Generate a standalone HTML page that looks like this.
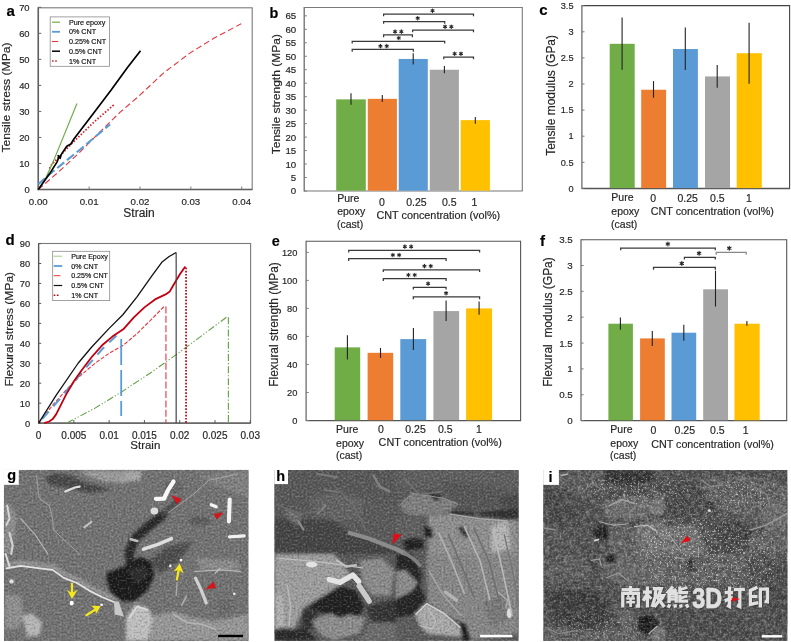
<!DOCTYPE html>
<html><head><meta charset="utf-8"><title>Figure</title>
<style>html,body{margin:0;padding:0;background:#fff;}svg{display:block;will-change:transform;}text{font-family:"Liberation Sans", sans-serif;stroke:#262626;stroke-width:0.18px;paint-order:stroke fill;}</style>
</head><body>
<svg width="791" height="642" viewBox="0 0 791 642">
<defs>
<filter id="b3" x="-20%" y="-20%" width="140%" height="140%"><feGaussianBlur stdDeviation="1.8"/></filter>
<filter id="b1" x="-20%" y="-20%" width="140%" height="140%"><feGaussianBlur stdDeviation="0.55"/></filter>
<filter id="b05" x="-20%" y="-20%" width="140%" height="140%"><feGaussianBlur stdDeviation="0.3"/></filter>
<filter id="wm" x="-5%" y="-20%" width="110%" height="140%"><feGaussianBlur stdDeviation="0.35"/></filter>
<filter id="noise" x="0" y="0" width="100%" height="100%"><feTurbulence type="fractalNoise" baseFrequency="0.22" numOctaves="4" seed="7" result="t"/><feColorMatrix in="t" type="matrix" values="0 0 0 0 1  0 0 0 0 1  0 0 0 0 1  2.2 0 0 0 -1.1" result="w"/><feColorMatrix in="t" type="matrix" values="0 0 0 0 0  0 0 0 0 0  0 0 0 0 0  -2.2 0 0 0 1.1" result="k"/><feMerge><feMergeNode in="w"/><feMergeNode in="k"/></feMerge></filter>
<filter id="noisef" x="0" y="0" width="100%" height="100%"><feTurbulence type="fractalNoise" baseFrequency="0.5" numOctaves="3" seed="11" result="t"/><feColorMatrix in="t" type="matrix" values="0 0 0 0 1  0 0 0 0 1  0 0 0 0 1  2.2 0 0 0 -1.1" result="w"/><feColorMatrix in="t" type="matrix" values="0 0 0 0 0  0 0 0 0 0  0 0 0 0 0  -2.2 0 0 0 1.1" result="k"/><feMerge><feMergeNode in="w"/><feMergeNode in="k"/></feMerge></filter>
<filter id="b6" x="-30%" y="-30%" width="160%" height="160%"><feGaussianBlur stdDeviation="7"/></filter>
<filter id="speck" x="0" y="0" width="100%" height="100%"><feTurbulence type="fractalNoise" baseFrequency="0.55" numOctaves="2" seed="3" result="t"/><feColorMatrix in="t" type="matrix" values="0 0 0 0 1  0 0 0 0 1  0 0 0 0 1  7 0 0 0 -4.1"/></filter>
</defs>
<rect x="0.00" y="0.00" width="791.00" height="642.00" fill="#fff"/>
<rect x="38.3" y="7.8" width="213.89999999999998" height="181.7" fill="#fff" stroke="#7a7a7a" stroke-width="1.1"/>
<line x1="38.30" y1="7.30" x2="38.30" y2="190.20" stroke="#606060" stroke-width="1.5"/>
<line x1="37.60" y1="189.50" x2="252.20" y2="189.50" stroke="#606060" stroke-width="1.5"/>
<line x1="38.30" y1="189.50" x2="41.30" y2="189.50" stroke="#666" stroke-width="1"/>
<text x="29.60" y="193.37" font-size="9.4" text-anchor="end" font-weight="normal" fill="#262626">0</text>
<line x1="38.30" y1="163.47" x2="41.30" y2="163.47" stroke="#666" stroke-width="1"/>
<text x="29.60" y="167.34" font-size="9.4" text-anchor="end" font-weight="normal" fill="#262626">10</text>
<line x1="38.30" y1="137.44" x2="41.30" y2="137.44" stroke="#666" stroke-width="1"/>
<text x="29.60" y="141.31" font-size="9.4" text-anchor="end" font-weight="normal" fill="#262626">20</text>
<line x1="38.30" y1="111.41" x2="41.30" y2="111.41" stroke="#666" stroke-width="1"/>
<text x="29.60" y="115.28" font-size="9.4" text-anchor="end" font-weight="normal" fill="#262626">30</text>
<line x1="38.30" y1="85.38" x2="41.30" y2="85.38" stroke="#666" stroke-width="1"/>
<text x="29.60" y="89.25" font-size="9.4" text-anchor="end" font-weight="normal" fill="#262626">40</text>
<line x1="38.30" y1="59.35" x2="41.30" y2="59.35" stroke="#666" stroke-width="1"/>
<text x="29.60" y="63.22" font-size="9.4" text-anchor="end" font-weight="normal" fill="#262626">50</text>
<line x1="38.30" y1="33.32" x2="41.30" y2="33.32" stroke="#666" stroke-width="1"/>
<text x="29.60" y="37.19" font-size="9.4" text-anchor="end" font-weight="normal" fill="#262626">60</text>
<line x1="38.30" y1="7.29" x2="41.30" y2="7.29" stroke="#666" stroke-width="1"/>
<text x="29.60" y="11.16" font-size="9.4" text-anchor="end" font-weight="normal" fill="#262626">70</text>
<line x1="38.30" y1="189.50" x2="38.30" y2="186.50" stroke="#7a7a7a" stroke-width="1"/>
<text x="38.30" y="205.17" font-size="9.7" text-anchor="middle" font-weight="normal" fill="#262626">0.00</text>
<line x1="89.15" y1="189.50" x2="89.15" y2="186.50" stroke="#7a7a7a" stroke-width="1"/>
<text x="89.15" y="205.17" font-size="9.7" text-anchor="middle" font-weight="normal" fill="#262626">0.01</text>
<line x1="140.00" y1="189.50" x2="140.00" y2="186.50" stroke="#7a7a7a" stroke-width="1"/>
<text x="140.00" y="205.17" font-size="9.7" text-anchor="middle" font-weight="normal" fill="#262626">0.02</text>
<line x1="190.85" y1="189.50" x2="190.85" y2="186.50" stroke="#7a7a7a" stroke-width="1"/>
<text x="190.85" y="205.17" font-size="9.7" text-anchor="middle" font-weight="normal" fill="#262626">0.03</text>
<line x1="241.70" y1="189.50" x2="241.70" y2="186.50" stroke="#7a7a7a" stroke-width="1"/>
<text x="241.70" y="205.17" font-size="9.7" text-anchor="middle" font-weight="normal" fill="#262626">0.04</text>
<text x="139.00" y="216.60" font-size="12" text-anchor="middle" font-weight="normal" fill="#262626">Strain</text>
<text x="6.40" y="101.55" font-size="11.3" text-anchor="middle" font-weight="normal" fill="#262626" transform="rotate(-90 6.40 97.50)" textLength="110.2" lengthAdjust="spacingAndGlyphs">Tensile stress (MPa)</text>
<text x="10.70" y="15.77" font-size="15" text-anchor="middle" font-weight="bold" fill="#000">a</text>
<polyline points="38.30,189.50 58.64,171.80 78.98,153.06 99.32,132.49 120.17,112.19 137.46,97.35 163.39,73.15 189.83,53.10 214.24,38.01 241.19,23.69" fill="none" stroke="#E8343C" stroke-width="1.1" stroke-dasharray="6 3.2"/>
<polyline points="38.30,184.29 46.44,176.75 78.98,150.45 110.00,124.42" fill="none" stroke="#5B9BD5" stroke-width="2.1" stroke-dasharray="9 3.5"/>
<polyline points="49.49,168.68 51.52,164.77 70.84,144.47 94.23,121.82 114.07,104.64" fill="none" stroke="#D62027" stroke-width="1.7" stroke-dasharray="1.6 1.7"/>
<polyline points="38.30,189.50 45.93,177.79 53.55,160.87 76.95,103.60" fill="none" stroke="#70AD47" stroke-width="1.2"/>
<polyline points="38.30,189.50 49.69,173.62 57.11,161.91 59.15,156.18 58.13,155.66 60.17,158.26 61.18,154.62 66.78,146.29 70.84,143.95 73.89,139.00 95.25,110.89 111.52,89.54 127.29,67.68 140.51,50.76" fill="none" stroke="#000" stroke-width="1.7" stroke-linejoin="round"/>
<rect x="50.2" y="16.9" width="59.3" height="49.4" fill="#fff" stroke="#8a8a8a" stroke-width="0.8"/>
<text x="68.90" y="24.78" font-size="7.2" text-anchor="start" font-weight="normal" fill="#111">Pure epoxy</text>
<text x="68.90" y="34.38" font-size="7.2" text-anchor="start" font-weight="normal" fill="#111">0% CNT</text>
<text x="68.90" y="44.08" font-size="7.2" text-anchor="start" font-weight="normal" fill="#111">0.25% CNT</text>
<text x="68.90" y="53.78" font-size="7.2" text-anchor="start" font-weight="normal" fill="#111">0.5% CNT</text>
<text x="68.90" y="63.58" font-size="7.2" text-anchor="start" font-weight="normal" fill="#111">1% CNT</text>
<line x1="52.00" y1="22.20" x2="60.00" y2="22.20" stroke="#70AD47" stroke-width="1.2"/>
<line x1="52.00" y1="31.80" x2="60.00" y2="31.80" stroke="#5B9BD5" stroke-width="1.8"/>
<line x1="51.80" y1="41.50" x2="58.20" y2="41.50" stroke="#E8343C" stroke-width="1.1"/>
<line x1="52.00" y1="51.20" x2="60.00" y2="51.20" stroke="#000" stroke-width="1.5"/>
<line x1="52.00" y1="61.00" x2="57.50" y2="61.00" stroke="#D62027" stroke-width="1.6" stroke-dasharray="1.6 1.6"/>
<rect x="304.20" y="7.50" width="218.10" height="183.50" fill="#fff"/>
<line x1="304.20" y1="7.50" x2="522.30" y2="7.50" stroke="#7a7a7a" stroke-width="1.1"/>
<line x1="522.30" y1="7.00" x2="522.30" y2="191.00" stroke="#7a7a7a" stroke-width="1.1"/>
<line x1="304.20" y1="7.00" x2="304.20" y2="191.50" stroke="#6c6c6c" stroke-width="1.3"/>
<line x1="304.20" y1="191.00" x2="522.80" y2="191.00" stroke="#777" stroke-width="1.15"/>
<line x1="304.20" y1="191.00" x2="306.80" y2="191.00" stroke="#7a7a7a" stroke-width="1"/>
<text x="296.20" y="194.47" font-size="9.7" text-anchor="end" font-weight="normal" fill="#262626">0</text>
<line x1="304.20" y1="177.53" x2="306.80" y2="177.53" stroke="#7a7a7a" stroke-width="1"/>
<text x="296.20" y="181.00" font-size="9.7" text-anchor="end" font-weight="normal" fill="#262626">5</text>
<line x1="304.20" y1="164.05" x2="306.80" y2="164.05" stroke="#7a7a7a" stroke-width="1"/>
<text x="296.20" y="167.52" font-size="9.7" text-anchor="end" font-weight="normal" fill="#262626">10</text>
<line x1="304.20" y1="150.57" x2="306.80" y2="150.57" stroke="#7a7a7a" stroke-width="1"/>
<text x="296.20" y="154.05" font-size="9.7" text-anchor="end" font-weight="normal" fill="#262626">15</text>
<line x1="304.20" y1="137.10" x2="306.80" y2="137.10" stroke="#7a7a7a" stroke-width="1"/>
<text x="296.20" y="140.57" font-size="9.7" text-anchor="end" font-weight="normal" fill="#262626">20</text>
<line x1="304.20" y1="123.62" x2="306.80" y2="123.62" stroke="#7a7a7a" stroke-width="1"/>
<text x="296.20" y="127.10" font-size="9.7" text-anchor="end" font-weight="normal" fill="#262626">25</text>
<line x1="304.20" y1="110.15" x2="306.80" y2="110.15" stroke="#7a7a7a" stroke-width="1"/>
<text x="296.20" y="113.62" font-size="9.7" text-anchor="end" font-weight="normal" fill="#262626">30</text>
<line x1="304.20" y1="96.68" x2="306.80" y2="96.68" stroke="#7a7a7a" stroke-width="1"/>
<text x="296.20" y="100.15" font-size="9.7" text-anchor="end" font-weight="normal" fill="#262626">35</text>
<line x1="304.20" y1="83.20" x2="306.80" y2="83.20" stroke="#7a7a7a" stroke-width="1"/>
<text x="296.20" y="86.67" font-size="9.7" text-anchor="end" font-weight="normal" fill="#262626">40</text>
<line x1="304.20" y1="69.73" x2="306.80" y2="69.73" stroke="#7a7a7a" stroke-width="1"/>
<text x="296.20" y="73.20" font-size="9.7" text-anchor="end" font-weight="normal" fill="#262626">45</text>
<line x1="304.20" y1="56.25" x2="306.80" y2="56.25" stroke="#7a7a7a" stroke-width="1"/>
<text x="296.20" y="59.72" font-size="9.7" text-anchor="end" font-weight="normal" fill="#262626">50</text>
<line x1="304.20" y1="42.78" x2="306.80" y2="42.78" stroke="#7a7a7a" stroke-width="1"/>
<text x="296.20" y="46.25" font-size="9.7" text-anchor="end" font-weight="normal" fill="#262626">55</text>
<line x1="304.20" y1="29.30" x2="306.80" y2="29.30" stroke="#7a7a7a" stroke-width="1"/>
<text x="296.20" y="32.77" font-size="9.7" text-anchor="end" font-weight="normal" fill="#262626">60</text>
<line x1="304.20" y1="15.83" x2="306.80" y2="15.83" stroke="#7a7a7a" stroke-width="1"/>
<text x="296.20" y="19.30" font-size="9.7" text-anchor="end" font-weight="normal" fill="#262626">65</text>
<rect x="336.20" y="99.37" width="29.60" height="91.33" fill="#70AD47"/>
<rect x="367.80" y="98.83" width="29.10" height="91.87" fill="#ED7D31"/>
<rect x="398.70" y="58.95" width="29.10" height="131.75" fill="#5B9BD5"/>
<rect x="429.80" y="69.73" width="29.10" height="120.97" fill="#A5A5A5"/>
<rect x="460.70" y="120.12" width="29.20" height="70.58" fill="#FFC000"/>
<line x1="351.00" y1="93.30" x2="351.00" y2="104.70" stroke="#222" stroke-width="1.1"/>
<line x1="382.30" y1="95.00" x2="382.30" y2="102.00" stroke="#222" stroke-width="1.1"/>
<line x1="413.20" y1="53.20" x2="413.20" y2="64.40" stroke="#222" stroke-width="1.1"/>
<line x1="444.40" y1="65.90" x2="444.40" y2="73.30" stroke="#222" stroke-width="1.1"/>
<line x1="475.30" y1="117.10" x2="475.30" y2="123.80" stroke="#222" stroke-width="1.1"/>
<text x="276.00" y="98.39" font-size="11.7" text-anchor="middle" font-weight="normal" fill="#262626" transform="rotate(-90 276.00 94.20)" textLength="120.2" lengthAdjust="spacingAndGlyphs">Tensile strength (MPa)</text>
<text x="273.90" y="18.06" font-size="14.4" text-anchor="middle" font-weight="bold" fill="#000">b</text>
<text x="337.20" y="202.36" font-size="10.5" text-anchor="start" font-weight="normal" fill="#262626">Pure</text>
<text x="337.20" y="214.76" font-size="10.5" text-anchor="start" font-weight="normal" fill="#262626">epoxy</text>
<text x="337.00" y="227.86" font-size="10.5" text-anchor="start" font-weight="normal" fill="#262626">(cast)</text>
<text x="382.00" y="206.06" font-size="10.5" text-anchor="middle" font-weight="normal" fill="#262626">0</text>
<text x="416.40" y="206.06" font-size="10.5" text-anchor="middle" font-weight="normal" fill="#262626">0.25</text>
<text x="449.20" y="206.06" font-size="10.5" text-anchor="middle" font-weight="normal" fill="#262626">0.5</text>
<text x="474.50" y="206.06" font-size="10.5" text-anchor="middle" font-weight="normal" fill="#262626">1</text>
<text x="376.40" y="218.56" font-size="10.5" text-anchor="start" font-weight="normal" fill="#262626" textLength="123.8" lengthAdjust="spacingAndGlyphs">CNT concentration (vol%)</text>
<path d="M352.20,51.70 V49.40 H413.30 V51.70" fill="none" stroke="#3a3a3a" stroke-width="1.25"/>
<path d="M380.45,44.35L380.45,47.85M381.97,45.23L378.93,46.98M381.97,46.98L378.93,45.23" stroke="#2a2a2a" stroke-width="1.1" fill="none" stroke-linecap="round"/>
<circle cx="380.45" cy="46.10" r="0.9" fill="#2a2a2a"/>
<path d="M386.75,44.35L386.75,47.85M388.27,45.23L385.23,46.98M388.27,46.98L385.23,45.23" stroke="#2a2a2a" stroke-width="1.1" fill="none" stroke-linecap="round"/>
<circle cx="386.75" cy="46.10" r="0.9" fill="#2a2a2a"/>
<path d="M352.20,43.60 V41.30 H444.70 V43.60" fill="none" stroke="#3a3a3a" stroke-width="1.25"/>
<path d="M398.80,36.25L398.80,39.75M400.32,37.12L397.28,38.88M400.32,38.88L397.28,37.12" stroke="#2a2a2a" stroke-width="1.1" fill="none" stroke-linecap="round"/>
<circle cx="398.80" cy="38.00" r="0.9" fill="#2a2a2a"/>
<path d="M383.60,37.20 V34.90 H412.40 V37.20" fill="none" stroke="#3a3a3a" stroke-width="1.25"/>
<path d="M395.05,29.85L395.05,33.35M396.57,30.72L393.53,32.47M396.57,32.48L393.53,30.72" stroke="#2a2a2a" stroke-width="1.1" fill="none" stroke-linecap="round"/>
<circle cx="395.05" cy="31.60" r="0.9" fill="#2a2a2a"/>
<path d="M401.35,29.85L401.35,33.35M402.87,30.72L399.83,32.47M402.87,32.48L399.83,30.72" stroke="#2a2a2a" stroke-width="1.1" fill="none" stroke-linecap="round"/>
<circle cx="401.35" cy="31.60" r="0.9" fill="#2a2a2a"/>
<path d="M383.60,23.80 V21.50 H444.70 V23.80" fill="none" stroke="#3a3a3a" stroke-width="1.25"/>
<path d="M417.70,16.45L417.70,19.95M419.22,17.32L416.18,19.07M419.22,19.07L416.18,17.32" stroke="#2a2a2a" stroke-width="1.1" fill="none" stroke-linecap="round"/>
<circle cx="417.70" cy="18.20" r="0.9" fill="#2a2a2a"/>
<path d="M383.60,16.30 V14.00 H473.50 V16.30" fill="none" stroke="#3a3a3a" stroke-width="1.25"/>
<path d="M432.50,8.95L432.50,12.45M434.02,9.82L430.98,11.57M434.02,11.57L430.98,9.82" stroke="#2a2a2a" stroke-width="1.1" fill="none" stroke-linecap="round"/>
<circle cx="432.50" cy="10.70" r="0.9" fill="#2a2a2a"/>
<path d="M412.60,32.30 V30.00 H473.50 V32.30" fill="none" stroke="#3a3a3a" stroke-width="1.25"/>
<path d="M445.05,24.95L445.05,28.45M446.57,25.82L443.53,27.57M446.57,27.57L443.53,25.82" stroke="#2a2a2a" stroke-width="1.1" fill="none" stroke-linecap="round"/>
<circle cx="445.05" cy="26.70" r="0.9" fill="#2a2a2a"/>
<path d="M451.35,24.95L451.35,28.45M452.87,25.82L449.83,27.57M452.87,27.57L449.83,25.82" stroke="#2a2a2a" stroke-width="1.1" fill="none" stroke-linecap="round"/>
<circle cx="451.35" cy="26.70" r="0.9" fill="#2a2a2a"/>
<path d="M443.80,59.30 V57.00 H473.50 V59.30" fill="none" stroke="#3a3a3a" stroke-width="1.25"/>
<path d="M454.65,51.95L454.65,55.45M456.17,52.83L453.13,54.58M456.17,54.58L453.13,52.83" stroke="#2a2a2a" stroke-width="1.1" fill="none" stroke-linecap="round"/>
<circle cx="454.65" cy="53.70" r="0.9" fill="#2a2a2a"/>
<path d="M460.95,51.95L460.95,55.45M462.47,52.83L459.43,54.58M462.47,54.58L459.43,52.83" stroke="#2a2a2a" stroke-width="1.1" fill="none" stroke-linecap="round"/>
<circle cx="460.95" cy="53.70" r="0.9" fill="#2a2a2a"/>
<rect x="581.90" y="5.60" width="207.70" height="182.80" fill="#fff"/>
<line x1="581.90" y1="5.60" x2="789.60" y2="5.60" stroke="#444" stroke-width="1.1"/>
<line x1="789.60" y1="5.10" x2="789.60" y2="188.40" stroke="#444" stroke-width="1.1"/>
<line x1="581.90" y1="5.10" x2="581.90" y2="188.90" stroke="#6c6c6c" stroke-width="1.3"/>
<line x1="581.90" y1="188.40" x2="790.10" y2="188.40" stroke="#555" stroke-width="1.5"/>
<line x1="581.90" y1="188.40" x2="584.50" y2="188.40" stroke="#7a7a7a" stroke-width="1"/>
<text x="573.50" y="191.69" font-size="9.2" text-anchor="end" font-weight="normal" fill="#262626">0</text>
<line x1="581.90" y1="162.30" x2="584.50" y2="162.30" stroke="#7a7a7a" stroke-width="1"/>
<text x="573.50" y="165.59" font-size="9.2" text-anchor="end" font-weight="normal" fill="#262626">0.5</text>
<line x1="581.90" y1="136.20" x2="584.50" y2="136.20" stroke="#7a7a7a" stroke-width="1"/>
<text x="573.50" y="139.49" font-size="9.2" text-anchor="end" font-weight="normal" fill="#262626">1</text>
<line x1="581.90" y1="110.10" x2="584.50" y2="110.10" stroke="#7a7a7a" stroke-width="1"/>
<text x="573.50" y="113.39" font-size="9.2" text-anchor="end" font-weight="normal" fill="#262626">1.5</text>
<line x1="581.90" y1="84.00" x2="584.50" y2="84.00" stroke="#7a7a7a" stroke-width="1"/>
<text x="573.50" y="87.29" font-size="9.2" text-anchor="end" font-weight="normal" fill="#262626">2</text>
<line x1="581.90" y1="57.90" x2="584.50" y2="57.90" stroke="#7a7a7a" stroke-width="1"/>
<text x="573.50" y="61.19" font-size="9.2" text-anchor="end" font-weight="normal" fill="#262626">2.5</text>
<line x1="581.90" y1="31.80" x2="584.50" y2="31.80" stroke="#7a7a7a" stroke-width="1"/>
<text x="573.50" y="35.09" font-size="9.2" text-anchor="end" font-weight="normal" fill="#262626">3</text>
<line x1="581.90" y1="5.70" x2="584.50" y2="5.70" stroke="#7a7a7a" stroke-width="1"/>
<text x="573.50" y="8.99" font-size="9.2" text-anchor="end" font-weight="normal" fill="#262626">3.5</text>
<rect x="609.70" y="43.81" width="25.00" height="144.29" fill="#70AD47"/>
<rect x="641.20" y="89.74" width="24.90" height="98.36" fill="#ED7D31"/>
<rect x="673.00" y="49.03" width="24.90" height="139.07" fill="#5B9BD5"/>
<rect x="705.00" y="76.43" width="25.00" height="111.67" fill="#A5A5A5"/>
<rect x="736.70" y="53.20" width="25.10" height="134.90" fill="#FFC000"/>
<line x1="622.10" y1="17.40" x2="622.10" y2="69.80" stroke="#222" stroke-width="1.1"/>
<line x1="653.50" y1="81.10" x2="653.50" y2="97.70" stroke="#222" stroke-width="1.1"/>
<line x1="685.30" y1="27.40" x2="685.30" y2="70.10" stroke="#222" stroke-width="1.1"/>
<line x1="717.20" y1="65.00" x2="717.20" y2="87.70" stroke="#222" stroke-width="1.1"/>
<line x1="749.10" y1="22.70" x2="749.10" y2="83.70" stroke="#222" stroke-width="1.1"/>
<text x="550.60" y="99.66" font-size="11.9" text-anchor="middle" font-weight="normal" fill="#262626" transform="rotate(-90 550.60 95.40)" textLength="120.7" lengthAdjust="spacingAndGlyphs">Tensile modulus (GPa)</text>
<text x="543.50" y="15.17" font-size="15" text-anchor="middle" font-weight="bold" fill="#000">c</text>
<text x="611.30" y="200.96" font-size="10.5" text-anchor="start" font-weight="normal" fill="#262626">Pure</text>
<text x="611.30" y="214.56" font-size="10.5" text-anchor="start" font-weight="normal" fill="#262626">epoxy</text>
<text x="611.10" y="227.76" font-size="10.5" text-anchor="start" font-weight="normal" fill="#262626">(cast)</text>
<text x="653.10" y="201.96" font-size="10.5" text-anchor="middle" font-weight="normal" fill="#262626">0</text>
<text x="687.60" y="201.96" font-size="10.5" text-anchor="middle" font-weight="normal" fill="#262626">0.25</text>
<text x="717.40" y="201.96" font-size="10.5" text-anchor="middle" font-weight="normal" fill="#262626">0.5</text>
<text x="748.90" y="201.96" font-size="10.5" text-anchor="middle" font-weight="normal" fill="#262626">1</text>
<text x="650.80" y="214.76" font-size="10.5" text-anchor="start" font-weight="normal" fill="#262626" textLength="123.1" lengthAdjust="spacingAndGlyphs">CNT concentration (vol%)</text>
<rect x="38.6" y="243.5" width="212.0" height="179.60000000000002" fill="#fff" stroke="#7a7a7a" stroke-width="1.1"/>
<line x1="38.60" y1="243.50" x2="38.60" y2="423.60" stroke="#555" stroke-width="1.3"/>
<line x1="38.60" y1="423.10" x2="250.60" y2="423.10" stroke="#555" stroke-width="1.3"/>
<line x1="38.60" y1="423.10" x2="41.20" y2="423.10" stroke="#555" stroke-width="1"/>
<text x="30.10" y="426.63" font-size="9.3" text-anchor="end" font-weight="normal" fill="#262626">0</text>
<line x1="38.60" y1="403.15" x2="41.20" y2="403.15" stroke="#555" stroke-width="1"/>
<text x="30.10" y="406.68" font-size="9.3" text-anchor="end" font-weight="normal" fill="#262626">10</text>
<line x1="38.60" y1="383.20" x2="41.20" y2="383.20" stroke="#555" stroke-width="1"/>
<text x="30.10" y="386.73" font-size="9.3" text-anchor="end" font-weight="normal" fill="#262626">20</text>
<line x1="38.60" y1="363.25" x2="41.20" y2="363.25" stroke="#555" stroke-width="1"/>
<text x="30.10" y="366.78" font-size="9.3" text-anchor="end" font-weight="normal" fill="#262626">30</text>
<line x1="38.60" y1="343.30" x2="41.20" y2="343.30" stroke="#555" stroke-width="1"/>
<text x="30.10" y="346.83" font-size="9.3" text-anchor="end" font-weight="normal" fill="#262626">40</text>
<line x1="38.60" y1="323.35" x2="41.20" y2="323.35" stroke="#555" stroke-width="1"/>
<text x="30.10" y="326.88" font-size="9.3" text-anchor="end" font-weight="normal" fill="#262626">50</text>
<line x1="38.60" y1="303.40" x2="41.20" y2="303.40" stroke="#555" stroke-width="1"/>
<text x="30.10" y="306.93" font-size="9.3" text-anchor="end" font-weight="normal" fill="#262626">60</text>
<line x1="38.60" y1="283.45" x2="41.20" y2="283.45" stroke="#555" stroke-width="1"/>
<text x="30.10" y="286.98" font-size="9.3" text-anchor="end" font-weight="normal" fill="#262626">70</text>
<line x1="38.60" y1="263.50" x2="41.20" y2="263.50" stroke="#555" stroke-width="1"/>
<text x="30.10" y="267.03" font-size="9.3" text-anchor="end" font-weight="normal" fill="#262626">80</text>
<line x1="38.60" y1="243.55" x2="41.20" y2="243.55" stroke="#555" stroke-width="1"/>
<text x="30.10" y="247.08" font-size="9.3" text-anchor="end" font-weight="normal" fill="#262626">90</text>
<line x1="38.60" y1="423.10" x2="38.60" y2="420.10" stroke="#555" stroke-width="1"/>
<text x="38.60" y="438.88" font-size="10" text-anchor="middle" font-weight="normal" fill="#262626">0</text>
<line x1="73.88" y1="423.10" x2="73.88" y2="420.10" stroke="#555" stroke-width="1"/>
<text x="73.88" y="438.88" font-size="10" text-anchor="middle" font-weight="normal" fill="#262626">0.005</text>
<line x1="109.15" y1="423.10" x2="109.15" y2="420.10" stroke="#555" stroke-width="1"/>
<text x="109.15" y="438.88" font-size="10" text-anchor="middle" font-weight="normal" fill="#262626">0.01</text>
<line x1="144.43" y1="423.10" x2="144.43" y2="420.10" stroke="#555" stroke-width="1"/>
<text x="144.43" y="438.88" font-size="10" text-anchor="middle" font-weight="normal" fill="#262626">0.015</text>
<line x1="179.70" y1="423.10" x2="179.70" y2="420.10" stroke="#555" stroke-width="1"/>
<text x="179.70" y="438.88" font-size="10" text-anchor="middle" font-weight="normal" fill="#262626">0.02</text>
<line x1="214.97" y1="423.10" x2="214.97" y2="420.10" stroke="#555" stroke-width="1"/>
<text x="214.97" y="438.88" font-size="10" text-anchor="middle" font-weight="normal" fill="#262626">0.025</text>
<line x1="250.25" y1="423.10" x2="250.25" y2="420.10" stroke="#555" stroke-width="1"/>
<text x="250.25" y="438.88" font-size="10" text-anchor="middle" font-weight="normal" fill="#262626">0.03</text>
<text x="145.30" y="449.32" font-size="11.5" text-anchor="middle" font-weight="normal" fill="#262626">Strain</text>
<text x="8.40" y="333.42" font-size="11.8" text-anchor="middle" font-weight="normal" fill="#262626" transform="rotate(-90 8.40 329.20)" textLength="114.6" lengthAdjust="spacingAndGlyphs">Flexural stress (MPa)</text>
<text x="10.00" y="245.47" font-size="15" text-anchor="middle" font-weight="bold" fill="#000">d</text>
<polyline points="66.82,423.10 95.04,408.14 121.14,392.18 151.48,372.23 176.17,354.67 200.86,336.32 227.67,316.37" fill="none" stroke="#62a045" stroke-width="1.1" stroke-dasharray="7 2 1.2 2 1.2 2"/>
<polyline points="228.38,317.37 228.38,423.10" fill="none" stroke="#62a045" stroke-width="1.1" stroke-dasharray="7 2 1.2 2"/>
<polyline points="38.60,423.10 52.71,405.15 66.82,389.19 80.93,375.22 95.04,363.25 109.15,353.28 123.26,345.30 137.37,333.33 151.48,319.36 164.18,306.39" fill="none" stroke="#E8343C" stroke-width="1.1" stroke-dasharray="4 1.6"/>
<polyline points="165.94,306.39 165.94,423.10" fill="none" stroke="#E8343C" stroke-width="1.1" stroke-dasharray="7 2.4"/>
<polyline points="42.13,419.11 59.77,399.16 80.93,373.23 102.09,349.29 121.85,330.33" fill="none" stroke="#5B9BD5" stroke-width="2.0" stroke-dasharray="10 7"/>
<polyline points="121.20,339.00 121.20,416.00" fill="none" stroke="#5B9BD5" stroke-width="1.8" stroke-dasharray="26 5"/>
<polyline points="44.24,423.10 49.18,421.50 52.71,419.11 56.24,414.12 59.77,407.14 66.82,393.18 73.88,381.21 80.93,371.23 91.51,357.26 102.09,345.30 112.68,336.32 123.26,329.34 133.84,317.37 144.43,307.39 155.01,299.41 165.59,294.42 169.82,291.43 172.64,286.44 179.70,274.47 185.34,266.49" fill="none" stroke="#C00010" stroke-width="1.8" stroke-linejoin="round"/>
<polyline points="186.05,267.49 186.05,423.10" fill="none" stroke="#C00010" stroke-width="1.7" stroke-dasharray="1.7 1.5"/>
<polyline points="38.60,423.10 56.24,395.17 78.11,363.25 91.51,347.29 109.15,328.34 122.84,314.77 137.37,296.42 151.48,276.47 161.78,262.30 169.12,256.52 176.17,252.53" fill="none" stroke="#111" stroke-width="1.3" stroke-linejoin="round"/>
<polyline points="176.17,252.53 176.17,423.10" fill="none" stroke="#444" stroke-width="1.2"/>
<rect x="52.7" y="251.3" width="57.0" height="49.3" fill="#fff" stroke="#8a8a8a" stroke-width="0.8"/>
<text x="71.20" y="258.74" font-size="7.1" text-anchor="start" font-weight="normal" fill="#111">Pure Epoxy</text>
<text x="71.20" y="268.54" font-size="7.1" text-anchor="start" font-weight="normal" fill="#111">0% CNT</text>
<text x="71.20" y="278.24" font-size="7.1" text-anchor="start" font-weight="normal" fill="#111">0.25% CNT</text>
<text x="71.20" y="288.04" font-size="7.1" text-anchor="start" font-weight="normal" fill="#111">0.5% CNT</text>
<text x="71.20" y="297.84" font-size="7.1" text-anchor="start" font-weight="normal" fill="#111">1% CNT</text>
<line x1="53.70" y1="256.20" x2="62.20" y2="256.20" stroke="#93c47d" stroke-width="0.9"/>
<line x1="53.70" y1="266.00" x2="62.20" y2="266.00" stroke="#5B9BD5" stroke-width="1.8"/>
<line x1="53.70" y1="275.70" x2="60.40" y2="275.70" stroke="#E8343C" stroke-width="1.0"/>
<line x1="53.70" y1="285.50" x2="62.20" y2="285.50" stroke="#111" stroke-width="1.2"/>
<line x1="53.70" y1="295.30" x2="59.30" y2="295.30" stroke="#C00010" stroke-width="1.6" stroke-dasharray="1.6 1.6"/>
<rect x="306.10" y="241.20" width="214.50" height="179.30" fill="#fff"/>
<line x1="306.10" y1="241.20" x2="520.60" y2="241.20" stroke="#555" stroke-width="1.1"/>
<line x1="520.60" y1="240.70" x2="520.60" y2="420.50" stroke="#555" stroke-width="1.1"/>
<line x1="306.10" y1="240.70" x2="306.10" y2="421.00" stroke="#6c6c6c" stroke-width="1.3"/>
<line x1="306.10" y1="420.50" x2="521.10" y2="420.50" stroke="#555" stroke-width="1.25"/>
<line x1="306.10" y1="420.50" x2="308.70" y2="420.50" stroke="#7a7a7a" stroke-width="1"/>
<text x="297.40" y="423.83" font-size="9.3" text-anchor="end" font-weight="normal" fill="#262626">0</text>
<line x1="306.10" y1="392.48" x2="308.70" y2="392.48" stroke="#7a7a7a" stroke-width="1"/>
<text x="297.40" y="395.81" font-size="9.3" text-anchor="end" font-weight="normal" fill="#262626">20</text>
<line x1="306.10" y1="364.46" x2="308.70" y2="364.46" stroke="#7a7a7a" stroke-width="1"/>
<text x="297.40" y="367.79" font-size="9.3" text-anchor="end" font-weight="normal" fill="#262626">40</text>
<line x1="306.10" y1="336.44" x2="308.70" y2="336.44" stroke="#7a7a7a" stroke-width="1"/>
<text x="297.40" y="339.77" font-size="9.3" text-anchor="end" font-weight="normal" fill="#262626">60</text>
<line x1="306.10" y1="308.42" x2="308.70" y2="308.42" stroke="#7a7a7a" stroke-width="1"/>
<text x="297.40" y="311.75" font-size="9.3" text-anchor="end" font-weight="normal" fill="#262626">80</text>
<line x1="306.10" y1="280.40" x2="308.70" y2="280.40" stroke="#7a7a7a" stroke-width="1"/>
<text x="297.40" y="283.73" font-size="9.3" text-anchor="end" font-weight="normal" fill="#262626">100</text>
<line x1="306.10" y1="252.38" x2="308.70" y2="252.38" stroke="#7a7a7a" stroke-width="1"/>
<text x="297.40" y="255.71" font-size="9.3" text-anchor="end" font-weight="normal" fill="#262626">120</text>
<rect x="334.70" y="347.37" width="25.50" height="72.83" fill="#70AD47"/>
<rect x="367.60" y="352.83" width="25.60" height="67.37" fill="#ED7D31"/>
<rect x="400.30" y="339.10" width="25.90" height="81.10" fill="#5B9BD5"/>
<rect x="433.40" y="311.08" width="25.70" height="109.12" fill="#A5A5A5"/>
<rect x="466.10" y="308.42" width="26.00" height="111.78" fill="#FFC000"/>
<line x1="347.40" y1="335.30" x2="347.40" y2="359.60" stroke="#222" stroke-width="1.1"/>
<line x1="380.50" y1="347.90" x2="380.50" y2="357.90" stroke="#222" stroke-width="1.1"/>
<line x1="413.40" y1="327.90" x2="413.40" y2="349.90" stroke="#222" stroke-width="1.1"/>
<line x1="446.10" y1="300.40" x2="446.10" y2="320.90" stroke="#222" stroke-width="1.1"/>
<line x1="479.10" y1="301.40" x2="479.10" y2="314.80" stroke="#222" stroke-width="1.1"/>
<text x="273.90" y="328.76" font-size="11.9" text-anchor="middle" font-weight="normal" fill="#262626" transform="rotate(-90 273.90 324.50)" textLength="124.5" lengthAdjust="spacingAndGlyphs">Flexural strength (MPa)</text>
<text x="275.70" y="245.56" font-size="14.4" text-anchor="middle" font-weight="bold" fill="#000">e</text>
<text x="336.10" y="432.56" font-size="10.5" text-anchor="start" font-weight="normal" fill="#262626">Pure</text>
<text x="336.10" y="446.76" font-size="10.5" text-anchor="start" font-weight="normal" fill="#262626">epoxy</text>
<text x="335.90" y="459.06" font-size="10.5" text-anchor="start" font-weight="normal" fill="#262626">(cast)</text>
<text x="380.90" y="432.66" font-size="10.5" text-anchor="middle" font-weight="normal" fill="#262626">0</text>
<text x="415.50" y="432.66" font-size="10.5" text-anchor="middle" font-weight="normal" fill="#262626">0.25</text>
<text x="445.30" y="432.66" font-size="10.5" text-anchor="middle" font-weight="normal" fill="#262626">0.5</text>
<text x="478.80" y="432.66" font-size="10.5" text-anchor="middle" font-weight="normal" fill="#262626">1</text>
<text x="378.60" y="446.46" font-size="10.5" text-anchor="start" font-weight="normal" fill="#262626" textLength="123.2" lengthAdjust="spacingAndGlyphs">CNT concentration (vol%)</text>
<path d="M348.70,252.60 V250.30 H479.60 V252.60" fill="none" stroke="#3a3a3a" stroke-width="1.25"/>
<path d="M404.85,244.85L404.85,248.35M406.37,245.73L403.33,247.48M406.37,247.48L403.33,245.73" stroke="#2a2a2a" stroke-width="1.1" fill="none" stroke-linecap="round"/>
<circle cx="404.85" cy="246.60" r="0.9" fill="#2a2a2a"/>
<path d="M411.15,244.85L411.15,248.35M412.67,245.73L409.63,247.48M412.67,247.48L409.63,245.73" stroke="#2a2a2a" stroke-width="1.1" fill="none" stroke-linecap="round"/>
<circle cx="411.15" cy="246.60" r="0.9" fill="#2a2a2a"/>
<path d="M348.70,261.00 V258.70 H446.10 V261.00" fill="none" stroke="#3a3a3a" stroke-width="1.25"/>
<path d="M392.85,253.25L392.85,256.75M394.37,254.12L391.33,255.88M394.37,255.88L391.33,254.12" stroke="#2a2a2a" stroke-width="1.1" fill="none" stroke-linecap="round"/>
<circle cx="392.85" cy="255.00" r="0.9" fill="#2a2a2a"/>
<path d="M399.15,253.25L399.15,256.75M400.67,254.12L397.63,255.88M400.67,255.88L397.63,254.12" stroke="#2a2a2a" stroke-width="1.1" fill="none" stroke-linecap="round"/>
<circle cx="399.15" cy="255.00" r="0.9" fill="#2a2a2a"/>
<path d="M383.30,272.10 V269.80 H479.60 V272.10" fill="none" stroke="#3a3a3a" stroke-width="1.25"/>
<path d="M424.45,264.35L424.45,267.85M425.97,265.23L422.93,266.98M425.97,266.98L422.93,265.23" stroke="#2a2a2a" stroke-width="1.1" fill="none" stroke-linecap="round"/>
<circle cx="424.45" cy="266.10" r="0.9" fill="#2a2a2a"/>
<path d="M430.75,264.35L430.75,267.85M432.27,265.23L429.23,266.98M432.27,266.98L429.23,265.23" stroke="#2a2a2a" stroke-width="1.1" fill="none" stroke-linecap="round"/>
<circle cx="430.75" cy="266.10" r="0.9" fill="#2a2a2a"/>
<path d="M383.30,281.00 V278.70 H446.10 V281.00" fill="none" stroke="#3a3a3a" stroke-width="1.25"/>
<path d="M408.45,273.25L408.45,276.75M409.97,274.12L406.93,275.88M409.97,275.88L406.93,274.12" stroke="#2a2a2a" stroke-width="1.1" fill="none" stroke-linecap="round"/>
<circle cx="408.45" cy="275.00" r="0.9" fill="#2a2a2a"/>
<path d="M414.75,273.25L414.75,276.75M416.27,274.12L413.23,275.88M416.27,275.88L413.23,274.12" stroke="#2a2a2a" stroke-width="1.1" fill="none" stroke-linecap="round"/>
<circle cx="414.75" cy="275.00" r="0.9" fill="#2a2a2a"/>
<path d="M413.30,289.60 V287.30 H446.10 V289.60" fill="none" stroke="#3a3a3a" stroke-width="1.25"/>
<path d="M428.10,281.85L428.10,285.35M429.62,282.73L426.58,284.48M429.62,284.48L426.58,282.73" stroke="#2a2a2a" stroke-width="1.1" fill="none" stroke-linecap="round"/>
<circle cx="428.10" cy="283.60" r="0.9" fill="#2a2a2a"/>
<path d="M413.30,299.20 V296.90 H479.60 V299.20" fill="none" stroke="#3a3a3a" stroke-width="1.25"/>
<path d="M446.10,291.45L446.10,294.95M447.62,292.32L444.58,294.07M447.62,294.07L444.58,292.32" stroke="#2a2a2a" stroke-width="1.1" fill="none" stroke-linecap="round"/>
<circle cx="446.10" cy="293.20" r="0.9" fill="#2a2a2a"/>
<rect x="581.00" y="239.80" width="205.70" height="180.80" fill="#fff"/>
<line x1="581.00" y1="239.80" x2="786.70" y2="239.80" stroke="#555" stroke-width="1.1"/>
<line x1="786.70" y1="239.30" x2="786.70" y2="420.60" stroke="#555" stroke-width="1.1"/>
<line x1="581.00" y1="239.30" x2="581.00" y2="421.10" stroke="#6c6c6c" stroke-width="1.3"/>
<line x1="581.00" y1="420.60" x2="787.20" y2="420.60" stroke="#555" stroke-width="1.3"/>
<line x1="581.00" y1="420.60" x2="583.60" y2="420.60" stroke="#7a7a7a" stroke-width="1"/>
<text x="572.80" y="424.11" font-size="9.8" text-anchor="end" font-weight="normal" fill="#262626">0</text>
<line x1="581.00" y1="394.75" x2="583.60" y2="394.75" stroke="#7a7a7a" stroke-width="1"/>
<text x="572.80" y="398.26" font-size="9.8" text-anchor="end" font-weight="normal" fill="#262626">0.5</text>
<line x1="581.00" y1="368.90" x2="583.60" y2="368.90" stroke="#7a7a7a" stroke-width="1"/>
<text x="572.80" y="372.41" font-size="9.8" text-anchor="end" font-weight="normal" fill="#262626">1</text>
<line x1="581.00" y1="343.05" x2="583.60" y2="343.05" stroke="#7a7a7a" stroke-width="1"/>
<text x="572.80" y="346.56" font-size="9.8" text-anchor="end" font-weight="normal" fill="#262626">1.5</text>
<line x1="581.00" y1="317.20" x2="583.60" y2="317.20" stroke="#7a7a7a" stroke-width="1"/>
<text x="572.80" y="320.71" font-size="9.8" text-anchor="end" font-weight="normal" fill="#262626">2</text>
<line x1="581.00" y1="291.35" x2="583.60" y2="291.35" stroke="#7a7a7a" stroke-width="1"/>
<text x="572.80" y="294.86" font-size="9.8" text-anchor="end" font-weight="normal" fill="#262626">2.5</text>
<line x1="581.00" y1="265.50" x2="583.60" y2="265.50" stroke="#7a7a7a" stroke-width="1"/>
<text x="572.80" y="269.01" font-size="9.8" text-anchor="end" font-weight="normal" fill="#262626">3</text>
<line x1="581.00" y1="239.65" x2="583.60" y2="239.65" stroke="#7a7a7a" stroke-width="1"/>
<text x="572.80" y="243.16" font-size="9.8" text-anchor="end" font-weight="normal" fill="#262626">3.5</text>
<rect x="608.40" y="323.71" width="24.50" height="96.59" fill="#70AD47"/>
<rect x="640.10" y="338.40" width="24.70" height="81.90" fill="#ED7D31"/>
<rect x="671.50" y="332.71" width="24.70" height="87.59" fill="#5B9BD5"/>
<rect x="703.20" y="289.28" width="24.80" height="131.02" fill="#A5A5A5"/>
<rect x="734.50" y="323.71" width="25.20" height="96.59" fill="#FFC000"/>
<line x1="620.40" y1="317.40" x2="620.40" y2="329.70" stroke="#222" stroke-width="1.1"/>
<line x1="652.30" y1="331.00" x2="652.30" y2="346.00" stroke="#222" stroke-width="1.1"/>
<line x1="683.80" y1="324.80" x2="683.80" y2="340.70" stroke="#222" stroke-width="1.1"/>
<line x1="715.50" y1="270.70" x2="715.50" y2="306.60" stroke="#222" stroke-width="1.1"/>
<line x1="746.90" y1="320.90" x2="746.90" y2="325.80" stroke="#222" stroke-width="1.1"/>
<text x="547.40" y="326.26" font-size="11.9" text-anchor="middle" font-weight="normal" fill="#262626" transform="rotate(-90 547.40 322.00)" textLength="129.5" lengthAdjust="spacingAndGlyphs">Flexural  modulus (GPa)</text>
<text x="542.60" y="245.67" font-size="15" text-anchor="middle" font-weight="bold" fill="#000">f</text>
<text x="610.30" y="432.86" font-size="10.5" text-anchor="start" font-weight="normal" fill="#262626">Pure</text>
<text x="610.30" y="446.76" font-size="10.5" text-anchor="start" font-weight="normal" fill="#262626">epoxy</text>
<text x="610.10" y="459.36" font-size="10.5" text-anchor="start" font-weight="normal" fill="#262626">(cast)</text>
<text x="653.30" y="434.26" font-size="10.5" text-anchor="middle" font-weight="normal" fill="#262626">0</text>
<text x="684.80" y="434.26" font-size="10.5" text-anchor="middle" font-weight="normal" fill="#262626">0.25</text>
<text x="717.40" y="434.26" font-size="10.5" text-anchor="middle" font-weight="normal" fill="#262626">0.5</text>
<text x="745.60" y="434.26" font-size="10.5" text-anchor="middle" font-weight="normal" fill="#262626">1</text>
<text x="651.20" y="447.76" font-size="10.5" text-anchor="start" font-weight="normal" fill="#262626" textLength="122.7" lengthAdjust="spacingAndGlyphs">CNT concentration (vol%)</text>
<path d="M620.70,250.30 V248.00 H715.30 V250.30" fill="none" stroke="#3a3a3a" stroke-width="1.25"/>
<path d="M667.90,242.00L667.90,246.00M669.63,243.00L666.17,245.00M669.63,245.00L666.17,243.00" stroke="#2a2a2a" stroke-width="1.1" fill="none" stroke-linecap="round"/>
<circle cx="667.90" cy="244.00" r="0.9" fill="#2a2a2a"/>
<path d="M684.40,259.60 V257.30 H715.30 V259.60" fill="none" stroke="#3a3a3a" stroke-width="1.25"/>
<path d="M699.10,251.30L699.10,255.30M700.83,252.30L697.37,254.30M700.83,254.30L697.37,252.30" stroke="#2a2a2a" stroke-width="1.1" fill="none" stroke-linecap="round"/>
<circle cx="699.10" cy="253.30" r="0.9" fill="#2a2a2a"/>
<path d="M653.50,269.70 V267.40 H715.30 V269.70" fill="none" stroke="#3a3a3a" stroke-width="1.25"/>
<path d="M681.80,261.40L681.80,265.40M683.53,262.40L680.07,264.40M683.53,264.40L680.07,262.40" stroke="#2a2a2a" stroke-width="1.1" fill="none" stroke-linecap="round"/>
<circle cx="681.80" cy="263.40" r="0.9" fill="#2a2a2a"/>
<path d="M716.20,254.70 V252.40 H746.20 V254.70" fill="none" stroke="#888" stroke-width="1.25"/>
<path d="M729.30,246.20L729.30,250.20M731.03,247.20L727.57,249.20M731.03,249.20L727.57,247.20" stroke="#2a2a2a" stroke-width="1.1" fill="none" stroke-linecap="round"/>
<circle cx="729.30" cy="248.20" r="0.9" fill="#2a2a2a"/>
<clipPath id="cpg"><rect x="3.8" y="469.8" width="244.9" height="171.2"/></clipPath>
<g clip-path="url(#cpg)">
<rect x="3.80" y="469.80" width="244.90" height="171.20" fill="#727272"/>
<g filter="url(#b3)">
<polygon points="45.4,477.2 54.2,473.2 71.7,475.6 82.8,481.9 101.9,486.7 111.5,489.9 89.2,493.1 68.5,488.3 52.6,485.9 46.2,481.9" fill="#484848"/>
<polygon points="79.6,470.8 126.0,470.8 126.0,483.5 101.9,481.1 86.0,475.6" fill="#9a9a9a"/>
<polygon points="126.0,470.8 141.9,470.8 140.3,480.3 126.0,481.9" fill="#a6a6a6"/>
<polygon points="197.7,475.6 248.7,470.8 248.7,497.9 215.2,485.1" fill="#808080"/>
<ellipse cx="199.3" cy="521.0" rx="11.2" ry="4.5" fill="#5c5c5c"/>
<ellipse cx="173.8" cy="486.7" rx="9.6" ry="6.4" fill="#666666"/>
<polyline points="130.8,567.9 129.2,552.0 135.6,537.7 148.3,526.5 162.6,515.4" fill="none" stroke="#2c2c2c" stroke-width="9.24" stroke-linecap="round" stroke-linejoin="round"/>
<polyline points="163.4,513.8 173.8,504.2 178.6,500.2" fill="none" stroke="#484848" stroke-width="4.78" stroke-linecap="round" stroke-linejoin="round"/>
<polyline points="149.7,561.6 165.7,549.5 191.1,542.5" fill="none" stroke="#565656" stroke-width="3.82" stroke-linecap="round" stroke-linejoin="round"/>
<polygon points="4.0,502.6 11.2,505.8 17.5,518.6 14.3,536.1 9.6,553.9 4.0,553.9" fill="#8c8c8c"/>
<polygon points="4.8,593.8 20.7,595.4 23.9,617.7 17.5,628.9 4.8,628.9" fill="#8e8e8e"/>
<polygon points="22.3,616.1 31.9,612.9 42.2,622.5 39.8,635.2 27.1,636.8" fill="#b4b4b4"/>
<polyline points="6.4,565.2 20.7,562.8 39.8,564.8 53.4,566.7 64.5,574.4 77.3,579.2 90.0,587.1 102.7,593.5 118.7,600.2" fill="none" stroke="#949494" stroke-width="4.78" stroke-linecap="round" stroke-linejoin="round"/>
<polygon points="151.5,616.1 173.8,611.3 194.5,617.7 215.2,620.9 248.7,614.5 248.7,640.8 146.7,640.8" fill="#969696"/>
<polygon points="126.0,617.7 135.6,603.7 148.3,608.2 152.8,617.7 147.5,640.8 126.0,640.8" fill="#bebebe"/>
<polygon points="194.5,558.0 237.5,560.4 240.7,571.5 221.6,569.9 202.5,570.7" fill="#8a8a8a"/>
<ellipse cx="224.8" cy="606.6" rx="9.6" ry="8.0" fill="#6a6a6a"/>
<polygon points="106.7,572.7 125.8,565.4 140.2,556.8 151.3,561.6 154.5,575.9 147.2,590.9 133.8,601.4 120.4,601.4 110.9,593.4 106.7,581.3" fill="#1e1e1e"/>
<polygon points="127.4,571.1 143.4,564.8 149.7,574.3 137.0,583.9" fill="#2e2e2e"/>
<polygon points="149.7,561.6 172.0,545.6 191.1,545.6 178.4,561.6 159.3,574.3" fill="#4e4e4e"/>
</g>
<rect x="3.8" y="469.8" width="244.9" height="171.2" filter="url(#noisef)" opacity="0.3"/>
<g filter="url(#b1)">
<polyline points="6.4,568.3 20.7,565.9 39.8,568.3 52.6,569.9 63.7,577.9 76.5,582.7 89.2,590.6 101.9,597.0 117.9,603.7" fill="none" stroke="#e4e4e4" stroke-width="1.75" stroke-linecap="round" stroke-linejoin="round"/>
<polyline points="7.2,505.8 9.6,518.6 6.4,524.9" fill="none" stroke="#d8d8d8" stroke-width="1.91" stroke-linecap="round" stroke-linejoin="round"/>
<polyline points="5.6,554.0 9.6,566.7" fill="none" stroke="#dddddd" stroke-width="1.91" stroke-linecap="round" stroke-linejoin="round"/>
<polyline points="9.6,532.9 12.7,545.6 11.2,553.9" fill="none" stroke="#d0d0d0" stroke-width="2.23" stroke-linecap="round" stroke-linejoin="round"/>
<polyline points="36.6,475.6 39.0,497.9 49.4,505.8 52.6,518.6 53.4,529.7" fill="none" stroke="#9c9c9c" stroke-width="1.12" stroke-linecap="round" stroke-linejoin="round"/>
<polyline points="20.7,518.6 35.0,534.5 47.8,553.9" fill="none" stroke="#b8b8b8" stroke-width="1.12" stroke-linecap="round" stroke-linejoin="round"/>
<polyline points="53.4,529.7 66.9,542.5 79.6,553.9" fill="none" stroke="#a8a8a8" stroke-width="0.96" stroke-linecap="round" stroke-linejoin="round"/>
<polyline points="65.3,491.5 74.9,487.5 79.6,486.7" fill="none" stroke="#e0e0e0" stroke-width="2.23" stroke-linecap="round" stroke-linejoin="round"/>
<polyline points="84.4,527.3 91.6,521.8" fill="none" stroke="#c8c8c8" stroke-width="1.91" stroke-linecap="round" stroke-linejoin="round"/>
<polyline points="169.0,512.2 192.9,494.7 208.8,480.3 237.5,474.0" fill="none" stroke="#a6a6a6" stroke-width="0.96" stroke-linecap="round" stroke-linejoin="round"/>
<polyline points="143.5,549.1 157.9,544.4 171.4,538.6" fill="none" stroke="#dedede" stroke-width="3.50" stroke-linecap="round" stroke-linejoin="round"/>
<ellipse cx="154.4" cy="510.9" rx="3.8" ry="3.5" fill="#dcdcdc"/>
<polyline points="130.8,539.3 137.2,540.9" fill="none" stroke="#c0c0c0" stroke-width="2.55" stroke-linecap="round" stroke-linejoin="round"/>
<polyline points="194.5,571.5 221.6,569.9 240.7,571.5" fill="none" stroke="#b8b8b8" stroke-width="1.12" stroke-linecap="round" stroke-linejoin="round"/>
<polyline points="220.0,568.3 215.2,573.1" fill="none" stroke="#c4c4c4" stroke-width="1.27" stroke-linecap="round" stroke-linejoin="round"/>
<polygon points="113.9,601.8 118.7,601.5 123.9,616.4 114.7,614.5" fill="#c8c8c8"/>
<polyline points="129.2,617.7 137.2,606.6 147.5,609.8" fill="none" stroke="#dcdcdc" stroke-width="1.59" stroke-linecap="round" stroke-linejoin="round"/>
<polyline points="173.8,614.5 186.5,622.5 200.9,624.1 215.2,628.9" fill="none" stroke="#b4b4b4" stroke-width="1.59" stroke-linecap="round" stroke-linejoin="round"/>
<polyline points="186.5,596.2 181.8,605.0" fill="none" stroke="#b0b0b0" stroke-width="1.59" stroke-linecap="round" stroke-linejoin="round"/>
<polyline points="177.0,582.7 176.2,595.4" fill="none" stroke="#a8a8a8" stroke-width="1.43" stroke-linecap="round" stroke-linejoin="round"/>
</g>
<g filter="url(#b05)">
<polyline points="155.9,498.8 163.9,498.7 168.2,489.9 173.5,481.6" fill="none" stroke="#f8f8f8" stroke-width="4.30" stroke-linecap="round" stroke-linejoin="round"/>
<polyline points="229.7,499.5 228.9,521.4" fill="none" stroke="#f4f4f4" stroke-width="4.14" stroke-linecap="round" stroke-linejoin="round"/>
<polyline points="211.2,504.7 216.2,506.8" fill="none" stroke="#f4f4f4" stroke-width="3.19" stroke-linecap="round" stroke-linejoin="round"/>
<polyline points="229.5,536.9 244.2,535.8" fill="none" stroke="#f2f2f2" stroke-width="3.19" stroke-linecap="round" stroke-linejoin="round"/>
<polyline points="195.6,578.2 200.9,589.4 206.3,603.1" fill="none" stroke="#d0d0d0" stroke-width="3.19" stroke-linecap="round" stroke-linejoin="round"/>
<ellipse cx="71.7" cy="603.1" rx="2.1" ry="2.4" fill="#ffffff"/>
<ellipse cx="101.6" cy="604.7" rx="1.3" ry="1.3" fill="#ffffff"/>
<ellipse cx="181.0" cy="560.1" rx="1.3" ry="1.3" fill="#ffffff"/>
<ellipse cx="170.3" cy="565.9" rx="1.3" ry="1.3" fill="#f0f0f0"/>
<ellipse cx="234.3" cy="593.8" rx="1.3" ry="1.3" fill="#f0f0f0"/>
<ellipse cx="11.5" cy="581.4" rx="2.2" ry="2.2" fill="#e0e0e0"/>
<polygon points="171.1,495.1 181.8,499.1 177.3,503.9" fill="#d2141c"/>
<polygon points="223.5,512.4 213.6,513.8 216.8,519.5" fill="#d2141c"/>
<polygon points="205.2,589.4 213.3,581.4 216.2,587.8" fill="#d2141c"/>
<polyline points="72.0,583.9 72.0,595.7" fill="none" stroke="#f6e71c" stroke-width="2.23" stroke-linecap="round" stroke-linejoin="round"/>
<polygon points="66.9,589.8 72.0,598.9 77.6,589.8 72.0,593.0" fill="#f6e71c"/>
<polyline points="86.3,615.2 97.5,608.2" fill="none" stroke="#f6e71c" stroke-width="2.23" stroke-linecap="round" stroke-linejoin="round"/>
<polygon points="91.1,605.8 100.7,605.9 95.9,614.2 95.3,609.4" fill="#f6e71c"/>
<polyline points="177.0,579.5 179.2,566.7" fill="none" stroke="#f6e71c" stroke-width="2.23" stroke-linecap="round" stroke-linejoin="round"/>
<polygon points="173.8,571.2 179.8,563.6 183.7,573.4 178.9,569.9" fill="#f6e71c"/>
</g>
<rect x="218.10" y="634.80" width="25.00" height="2.40" fill="#000"/>
</g>
<rect x="3.80" y="469.80" width="15.00" height="15.00" fill="#fff"/>
<text x="11.80" y="480.39" font-size="14.5" text-anchor="middle" font-weight="bold" fill="#000">g</text>
<clipPath id="cph"><rect x="274.3" y="469.9" width="244.5" height="171.0"/></clipPath>
<g clip-path="url(#cph)">
<rect x="274.30" y="469.90" width="244.50" height="171.00" fill="#5a5a5a"/>
<g filter="url(#b3)">
<polygon points="274.5,470.0 396.0,470.0 396.0,505.8 365.6,497.9 333.7,518.6 274.5,518.6" fill="#585858"/>
<polygon points="309.8,496.3 336.9,493.1 365.6,499.5 359.2,518.6 333.7,521.8 314.6,513.8" fill="#646464"/>
<polygon points="274.5,518.6 333.7,520.2 349.6,532.9 396.0,548.8 396.0,553.9 274.5,553.9" fill="#444444"/>
<polygon points="285.9,509.0 301.9,513.8 298.7,526.5 287.5,518.6" fill="#6e6e6e"/>
<polygon points="396.0,470.0 518.7,470.0 518.7,488.3 396.0,486.7" fill="#5e5e5e"/>
<polygon points="440.6,480.3 497.9,486.7 501.1,505.8 475.6,512.2 448.6,509.0" fill="#565656"/>
<polygon points="399.2,505.8 411.9,493.1 443.8,497.9 458.1,504.2 448.6,512.5 419.9,515.7 405.6,513.8" fill="#7e7e7e"/>
<polygon points="427.9,515.4 450.2,513.8 478.8,518.6 518.7,517.0 518.7,553.9 427.9,553.9" fill="#8e8e8e"/>
<polygon points="491.6,526.5 507.5,520.2 510.7,548.8 491.6,552.0" fill="#b4b4b4"/>
<polygon points="426.3,491.5 443.8,496.3 435.8,501.4" fill="#2a2a2a"/>
<polygon points="450.2,510.3 475.6,513.1 474.1,516.3 451.8,515.1" fill="#282828"/>
<polygon points="478.8,512.5 518.7,507.7 518.7,519.4 507.5,520.2 482.0,517.3" fill="#303030"/>
<polygon points="497.9,497.9 518.7,493.1 518.7,507.4 501.1,505.8" fill="#484848"/>
<polygon points="423.9,525.7 431.8,527.3 433.4,538.5 424.7,536.9" fill="#222222"/>
<polygon points="402.4,540.9 413.5,536.9 423.9,540.9 423.1,548.8 405.6,550.4" fill="#242424"/>
<polygon points="457.3,527.3 462.9,526.5 469.3,536.1 464.5,537.7" fill="#282828"/>
<polygon points="396.0,518.6 419.9,517.0 423.1,536.1 402.4,539.3 396.0,536.1" fill="#606060"/>
<polygon points="274.8,554.0 333.7,554.0 349.6,573.1 338.5,585.9 317.8,598.6 305.0,606.6 293.9,628.9 284.3,627.3 274.8,601.8" fill="#9c9c9c"/>
<polygon points="359.2,560.4 381.5,558.0 394.2,569.9 391.1,595.4 371.9,595.4 362.4,582.7" fill="#8a8a8a"/>
<polygon points="317.8,600.2 340.1,585.9 356.0,590.6 364.3,606.6 359.2,616.4 338.5,618.0 322.6,613.3 306.6,608.5" fill="#242424"/>
<polygon points="301.9,608.2 317.8,613.3 313.0,628.9 301.9,628.9" fill="#303030"/>
<polygon points="274.8,629.2 306.6,628.9 317.8,640.8 274.8,640.8" fill="#2c2c2c"/>
<polygon points="311.4,620.9 330.5,613.3 340.1,618.0 349.6,614.8 365.6,618.0 359.2,633.6 333.7,640.0 321.0,635.2" fill="#8c8c8c"/>
<polygon points="365.6,606.9 396.0,598.9 396.0,622.8 371.9,620.9" fill="#363636"/>
<polygon points="368.8,624.4 396.0,622.8 396.0,640.8 359.2,640.8" fill="#6c6c6c"/>
<polygon points="274.8,593.8 282.7,595.4 284.3,627.3 274.8,628.9" fill="#b0b0b0"/>
<polygon points="426.3,554.0 518.7,554.0 518.7,633.6 469.3,640.8 459.7,620.9 443.8,612.9 427.9,601.8" fill="#868686"/>
<polygon points="396.0,554.0 411.9,554.0 421.5,573.1 419.9,585.9 426.3,598.9 413.5,614.8 396.0,618.0" fill="#272727"/>
<polygon points="396.0,571.5 405.6,569.9 417.5,582.7 411.9,591.0 396.0,598.9" fill="#8a8a8a"/>
<polygon points="415.1,614.5 426.3,603.4 443.8,612.9 459.7,627.3 461.3,637.1 427.9,634.0 419.9,625.7" fill="#a8a8a8"/>
<polygon points="459.7,620.9 466.1,624.1 470.9,640.8 462.9,640.8" fill="#1e1e1e"/>
<polygon points="396.0,618.0 415.1,616.4 421.5,627.3 427.9,640.8 396.0,640.8" fill="#5c5c5c"/>
<polygon points="482.0,601.8 504.3,595.4 507.5,620.9 491.6,627.3" fill="#787878"/>
</g>
<rect x="274.3" y="469.9" width="244.5" height="171.0" filter="url(#noisef)" opacity="0.3"/>
<g filter="url(#b1)">
<polyline points="349.6,532.9 368.8,538.5 396.0,549.1" fill="none" stroke="#8c8c8c" stroke-width="4.14" stroke-linecap="round" stroke-linejoin="round"/>
<polyline points="396.0,548.8 405.6,553.9" fill="none" stroke="#8c8c8c" stroke-width="4.14" stroke-linecap="round" stroke-linejoin="round"/>
<polyline points="404.8,553.2 413.5,558.8 419.9,565.2" fill="none" stroke="#808080" stroke-width="3.50" stroke-linecap="round" stroke-linejoin="round"/>
<polyline points="317.8,474.0 336.9,477.2" fill="none" stroke="#7a7a7a" stroke-width="2.23" stroke-linecap="round" stroke-linejoin="round"/>
<polyline points="373.5,475.6 379.9,486.7 389.5,491.5" fill="none" stroke="#808080" stroke-width="2.55" stroke-linecap="round" stroke-linejoin="round"/>
<polyline points="324.2,489.9 338.5,492.3" fill="none" stroke="#787878" stroke-width="1.59" stroke-linecap="round" stroke-linejoin="round"/>
<polyline points="317.8,513.8 325.8,505.0" fill="none" stroke="#8a8a8a" stroke-width="1.59" stroke-linecap="round" stroke-linejoin="round"/>
<polyline points="298.7,521.8 303.5,529.7" fill="none" stroke="#8a8a8a" stroke-width="2.23" stroke-linecap="round" stroke-linejoin="round"/>
<ellipse cx="311.7" cy="564.5" rx="5.7" ry="2.9" fill="#e2e2e2"/>
<polyline points="329.3,579.5 340.1,582.4 352.8,575.0 358.6,581.4" fill="none" stroke="#e4e4e4" stroke-width="5.42" stroke-linecap="round" stroke-linejoin="round"/>
<polyline points="359.2,585.9 365.6,595.4 369.1,601.1" fill="none" stroke="#cacaca" stroke-width="5.42" stroke-linecap="round" stroke-linejoin="round"/>
<polyline points="287.5,585.9 290.7,606.6 289.1,625.7" fill="none" stroke="#b8b8b8" stroke-width="1.59" stroke-linecap="round" stroke-linejoin="round"/>
<polyline points="336.9,560.4 346.5,566.7 356.0,565.2" fill="none" stroke="#c0c0c0" stroke-width="2.23" stroke-linecap="round" stroke-linejoin="round"/>
<polyline points="415.9,614.2 426.6,603.7 443.8,613.3 460.0,627.3" fill="none" stroke="#d2d2d2" stroke-width="1.43" stroke-linecap="round" stroke-linejoin="round"/>
<polyline points="419.9,625.7 432.6,628.9 435.8,620.9 427.9,608.2" fill="none" stroke="#c4c4c4" stroke-width="0.96" stroke-linecap="round" stroke-linejoin="round"/>
<ellipse cx="509.4" cy="613.3" rx="2.5" ry="4.8" fill="#dcdcdc"/>
<polyline points="445.4,592.2 456.5,600.2" fill="none" stroke="#b4b4b4" stroke-width="3.50" stroke-linecap="round" stroke-linejoin="round"/>
<polyline points="497.9,592.2 507.5,600.2 505.9,608.2" fill="none" stroke="#b0b0b0" stroke-width="1.27" stroke-linecap="round" stroke-linejoin="round"/>
<polyline points="399.2,506.1 411.9,493.4 443.8,498.2 457.8,504.2" fill="none" stroke="#989898" stroke-width="0.96" stroke-linecap="round" stroke-linejoin="round"/>
<polyline points="450.2,514.1 478.8,518.6 507.5,521.0" fill="none" stroke="#aaaaaa" stroke-width="1.27" stroke-linecap="round" stroke-linejoin="round"/>
<polyline points="438.8,532.9 451.6,561.6 464.3,593.4" fill="none" stroke="#b2b2b2" stroke-width="1.59" stroke-linecap="round" stroke-linejoin="round"/>
<polyline points="448.4,534.5 461.1,564.8 473.9,596.6" fill="none" stroke="#6e6e6e" stroke-width="1.59" stroke-linecap="round" stroke-linejoin="round"/>
<polyline points="464.3,526.5 480.3,561.6 489.8,599.8" fill="none" stroke="#b6b6b6" stroke-width="1.59" stroke-linecap="round" stroke-linejoin="round"/>
<polyline points="473.9,528.1 489.8,563.2 499.4,601.4" fill="none" stroke="#707070" stroke-width="1.59" stroke-linecap="round" stroke-linejoin="round"/>
<polyline points="493.0,529.7 502.6,571.1 512.1,615.7" fill="none" stroke="#bababa" stroke-width="1.59" stroke-linecap="round" stroke-linejoin="round"/>
<polyline points="504.2,534.5 513.7,575.9 519.1,606.2" fill="none" stroke="#747474" stroke-width="1.27" stroke-linecap="round" stroke-linejoin="round"/>
<polyline points="429.3,571.1 442.0,593.4 461.1,615.7" fill="none" stroke="#a8a8a8" stroke-width="1.27" stroke-linecap="round" stroke-linejoin="round"/>
<polyline points="279.6,558.4 317.8,561.6 362.4,567.9" fill="none" stroke="#c0c0c0" stroke-width="1.27" stroke-linecap="round" stroke-linejoin="round"/>
<polyline points="276.4,504.2 298.7,513.8 321.0,510.6" fill="none" stroke="#6c6c6c" stroke-width="1.27" stroke-linecap="round" stroke-linejoin="round"/>
<polyline points="333.7,485.1 352.8,504.2 365.6,529.7" fill="none" stroke="#707070" stroke-width="1.27" stroke-linecap="round" stroke-linejoin="round"/>
<polyline points="403.8,478.7 419.7,494.7 442.0,491.5" fill="none" stroke="#767676" stroke-width="1.27" stroke-linecap="round" stroke-linejoin="round"/>
</g>
<polygon points="393.6,533.5 401.6,534.8 392.3,544.4" fill="#e01018" filter="url(#b05)"/>
<rect x="480.10" y="634.80" width="32.20" height="2.50" fill="#fff"/>
</g>
<rect x="274.30" y="469.90" width="13.70" height="14.20" fill="#fff"/>
<text x="280.60" y="481.19" font-size="14.5" text-anchor="middle" font-weight="bold" fill="#000">h</text>
<clipPath id="cpi"><rect x="543.2" y="469.9" width="244.4" height="171.0"/></clipPath>
<g clip-path="url(#cpi)">
<rect x="543.20" y="469.90" width="244.40" height="171.00" fill="#505050"/>
<g filter="url(#b3)">
<polygon points="554.9,470.8 602.7,470.8 605.9,489.9 578.8,497.9 554.9,491.5" fill="#5a5a5a"/>
<polygon points="602.7,470.0 653.7,470.0 650.5,481.9 628.2,486.7 605.9,481.9" fill="#363636"/>
<polygon points="602.7,502.6 625.0,496.3 650.5,497.9 665.0,493.1 665.0,513.8 634.6,520.2 605.9,518.6" fill="#6c6c6c"/>
<polygon points="543.5,485.1 570.9,491.5 583.6,513.8 562.9,526.5 543.5,523.3" fill="#484848"/>
<polygon points="609.1,525.3 628.2,523.3 640.9,539.3 637.8,553.9 609.1,553.9" fill="#606060"/>
<polygon points="634.6,525.3 665.0,520.2 665.0,553.9 640.9,553.9" fill="#747474"/>
<polygon points="594.8,526.8 605.9,525.3 609.7,536.1 602.7,540.1 595.1,536.1" fill="#1c1c1c"/>
<polygon points="543.5,529.7 561.3,526.5 586.8,553.9 543.5,553.9" fill="#565656"/>
<ellipse cx="656.9" cy="509.0" rx="4.0" ry="7.2" fill="#7a7a7a"/>
<polygon points="696.9,478.7 744.6,475.6 787.7,485.1 787.7,521.8 744.6,518.6 712.8,505.8" fill="#606060"/>
<polygon points="665.0,526.5 696.9,524.9 706.4,553.9 665.0,553.9" fill="#727272"/>
<polygon points="760.6,505.8 787.7,502.6 787.7,532.9 766.9,529.7" fill="#6c6c6c"/>
<polygon points="665.0,485.1 696.9,481.9 709.6,505.8 680.9,518.6 665.0,513.8" fill="#4a4a4a"/>
<polygon points="712.8,526.5 741.5,520.2 747.8,540.9 722.3,548.8" fill="#454545"/>
<ellipse cx="711.2" cy="506.6" rx="6.4" ry="4.8" fill="#3c3c3c"/>
<ellipse cx="747.8" cy="534.5" rx="4.0" ry="4.0" fill="#2a2a2a"/>
<polygon points="747.8,536.1 787.7,526.5 787.7,553.9 747.8,553.9" fill="#626262"/>
<polygon points="543.8,558.8 586.8,557.2 591.6,579.5 548.6,584.3" fill="#5c5c5c"/>
<polygon points="548.6,593.8 567.7,588.2 591.6,590.6 609.1,600.2 607.5,620.9 591.6,628.9 562.9,625.7 550.2,614.5" fill="#3c3c3c"/>
<polygon points="599.5,554.0 665.0,554.0 665.0,584.3 621.8,585.9 605.9,576.3" fill="#666666"/>
<polygon points="637.8,616.9 650.5,614.5 658.5,622.5 653.7,633.6 642.5,633.6 637.0,625.7" fill="#1a1a1a"/>
<polygon points="543.8,627.3 591.6,630.5 634.6,628.9 640.9,640.8 543.8,640.8" fill="#5e5e5e"/>
<polygon points="615.5,611.3 634.6,609.8 637.8,628.9 621.8,628.9" fill="#626262"/>
<ellipse cx="610.7" cy="558.8" rx="5.7" ry="4.8" fill="#242424"/>
<ellipse cx="593.2" cy="565.2" rx="4.8" ry="4.0" fill="#404040"/>
<polygon points="650.5,633.6 660.1,625.7 665.0,628.9 665.0,640.8 653.7,640.8" fill="#787878"/>
<polygon points="665.0,554.0 744.6,554.0 747.8,584.3 665.0,585.9" fill="#606060"/>
<polygon points="768.5,569.9 787.7,563.6 787.7,625.7 773.3,624.1 763.8,601.8" fill="#484848"/>
<polygon points="665.0,609.8 728.7,609.8 754.2,625.7 754.2,640.8 665.0,640.8" fill="#4c4c4c"/>
<polygon points="687.3,558.8 693.7,560.4 694.5,571.5 688.9,569.9" fill="#202020"/>
<polygon points="665.0,585.9 680.9,585.9 680.9,609.8 665.0,609.8" fill="#585858"/>
</g>
<rect x="543.2" y="469.9" width="244.4" height="171.0" filter="url(#noise)" opacity="0.28"/>
<rect x="543.2" y="469.9" width="244.4" height="171.0" filter="url(#noisef)" opacity="0.3"/>
<mask id="spk" maskUnits="userSpaceOnUse" x="540" y="466" width="251" height="176"><rect x="540" y="466" width="251" height="176" fill="#555"/><g filter="url(#b6)" fill="#fff"><ellipse cx="690" cy="545" rx="55" ry="30"/><ellipse cx="640" cy="490" rx="55" ry="13"/><ellipse cx="740" cy="495" rx="40" ry="15"/><ellipse cx="705" cy="580" rx="65" ry="12"/><ellipse cx="600" cy="628" rx="45" ry="9"/><ellipse cx="760" cy="560" rx="20" ry="30"/></g></mask>
<g mask="url(#spk)"><rect x="543.2" y="469.9" width="244.4" height="171.0" filter="url(#speck)" opacity="0.5"/></g>
<g filter="url(#b1)">
<polyline points="609.1,505.8 621.8,499.5 634.6,503.4" fill="none" stroke="#a0a0a0" stroke-width="1.59" stroke-linecap="round" stroke-linejoin="round"/>
<polyline points="599.5,521.8 613.9,525.3 628.2,523.7" fill="none" stroke="#a8a8a8" stroke-width="1.12" stroke-linecap="round" stroke-linejoin="round"/>
<polyline points="634.6,526.5 647.3,525.3 656.9,531.3" fill="none" stroke="#c0c0c0" stroke-width="1.12" stroke-linecap="round" stroke-linejoin="round"/>
<polyline points="561.3,475.6 567.7,474.0" fill="none" stroke="#b0b0b0" stroke-width="1.59" stroke-linecap="round" stroke-linejoin="round"/>
<polyline points="582.0,493.1 591.6,483.5 602.7,489.9" fill="none" stroke="#808080" stroke-width="1.12" stroke-linecap="round" stroke-linejoin="round"/>
<polyline points="543.8,528.1 554.9,529.7" fill="none" stroke="#8c8c8c" stroke-width="1.59" stroke-linecap="round" stroke-linejoin="round"/>
<polyline points="594.8,540.5 598.3,539.6" fill="none" stroke="#d0d0d0" stroke-width="1.91" stroke-linecap="round" stroke-linejoin="round"/>
<polyline points="701.6,480.3 711.2,486.7 722.3,485.1" fill="none" stroke="#8a8a8a" stroke-width="1.27" stroke-linecap="round" stroke-linejoin="round"/>
<polyline points="754.2,486.7 766.9,494.7 770.1,507.4" fill="none" stroke="#858585" stroke-width="1.27" stroke-linecap="round" stroke-linejoin="round"/>
<polyline points="751.0,529.7 766.9,524.9 786.1,513.8" fill="none" stroke="#9a9a9a" stroke-width="1.43" stroke-linecap="round" stroke-linejoin="round"/>
<ellipse cx="709.3" cy="510.6" rx="1.6" ry="1.3" fill="#e0e0e0"/>
<polyline points="668.2,532.9 679.3,548.8" fill="none" stroke="#a4a4a4" stroke-width="0.96" stroke-linecap="round" stroke-linejoin="round"/>
<polyline points="591.6,560.4 599.5,558.8 601.1,565.2" fill="none" stroke="#a0a0a0" stroke-width="1.27" stroke-linecap="round" stroke-linejoin="round"/>
<polyline points="605.9,577.9 618.6,573.1 628.2,581.1" fill="none" stroke="#9a9a9a" stroke-width="1.12" stroke-linecap="round" stroke-linejoin="round"/>
<polyline points="545.4,627.3 558.1,633.6 577.2,630.5" fill="none" stroke="#8a8a8a" stroke-width="1.12" stroke-linecap="round" stroke-linejoin="round"/>
<polyline points="648.9,633.6 656.9,626.5" fill="none" stroke="#b8b8b8" stroke-width="1.27" stroke-linecap="round" stroke-linejoin="round"/>
<polyline points="674.6,557.2 684.1,558.8" fill="none" stroke="#a0a0a0" stroke-width="1.27" stroke-linecap="round" stroke-linejoin="round"/>
</g>
<polygon points="680.6,543.6 687.3,535.6 690.5,540.5" fill="#e01018" filter="url(#b05)"/>
<g filter="url(#wm)">
<g opacity="0.4" transform="translate(0.7,0.7)">
<polyline points="621.54,589.72 639.66,589.72" fill="none" stroke="#202020" stroke-width="3.60" stroke-linecap="butt" stroke-linejoin="miter"/>
<polyline points="630.60,586.00 630.60,592.57" fill="none" stroke="#202020" stroke-width="3.60" stroke-linecap="butt" stroke-linejoin="miter"/>
<polyline points="622.77,607.46 622.77,593.45 638.43,593.45 638.43,606.15 635.54,606.15" fill="none" stroke="#202020" stroke-width="3.60" stroke-linecap="butt" stroke-linejoin="miter"/>
<polyline points="627.72,595.20 628.95,597.39" fill="none" stroke="#202020" stroke-width="2.52" stroke-linecap="butt" stroke-linejoin="miter"/>
<polyline points="633.48,595.20 632.25,597.39" fill="none" stroke="#202020" stroke-width="2.52" stroke-linecap="butt" stroke-linejoin="miter"/>
<polyline points="626.27,598.48 634.93,598.48" fill="none" stroke="#202020" stroke-width="2.70" stroke-linecap="butt" stroke-linejoin="miter"/>
<polyline points="626.27,602.21 634.93,602.21" fill="none" stroke="#202020" stroke-width="2.70" stroke-linecap="butt" stroke-linejoin="miter"/>
<polyline points="630.60,598.48 630.60,607.02" fill="none" stroke="#202020" stroke-width="2.88" stroke-linecap="butt" stroke-linejoin="miter"/>
<polyline points="643.04,592.13 651.92,592.13" fill="none" stroke="#202020" stroke-width="3.60" stroke-linecap="butt" stroke-linejoin="miter"/>
<polyline points="647.48,586.44 647.48,607.46" fill="none" stroke="#202020" stroke-width="3.60" stroke-linecap="butt" stroke-linejoin="miter"/>
<polyline points="647.48,593.45 643.27,600.89" fill="none" stroke="#202020" stroke-width="3.60" stroke-linecap="butt" stroke-linejoin="miter"/>
<polyline points="647.93,595.20 651.48,598.70" fill="none" stroke="#202020" stroke-width="2.88" stroke-linecap="butt" stroke-linejoin="miter"/>
<polyline points="652.81,588.63 661.25,588.63 658.58,595.64 663.47,595.64 661.25,599.58" fill="none" stroke="#202020" stroke-width="3.60" stroke-linecap="butt" stroke-linejoin="miter"/>
<polyline points="655.92,588.63 655.25,596.95 652.15,607.02" fill="none" stroke="#202020" stroke-width="3.60" stroke-linecap="butt" stroke-linejoin="miter"/>
<polyline points="656.36,596.07 664.36,607.02" fill="none" stroke="#202020" stroke-width="3.60" stroke-linecap="butt" stroke-linejoin="miter"/>
<polyline points="663.02,596.07 654.14,607.02" fill="none" stroke="#202020" stroke-width="3.60" stroke-linecap="butt" stroke-linejoin="miter"/>
<polyline points="672.88,586.44 668.81,591.26 676.04,590.82" fill="none" stroke="#202020" stroke-width="3.60" stroke-linecap="butt" stroke-linejoin="miter"/>
<polyline points="674.23,588.63 676.49,591.69" fill="none" stroke="#202020" stroke-width="2.88" stroke-linecap="butt" stroke-linejoin="miter"/>
<polyline points="669.03,603.08 669.03,593.45 676.27,593.45 676.27,602.64" fill="none" stroke="#202020" stroke-width="3.60" stroke-linecap="butt" stroke-linejoin="miter"/>
<polyline points="669.03,596.51 676.27,596.51" fill="none" stroke="#202020" stroke-width="2.70" stroke-linecap="butt" stroke-linejoin="miter"/>
<polyline points="669.03,599.36 676.27,599.36" fill="none" stroke="#202020" stroke-width="2.70" stroke-linecap="butt" stroke-linejoin="miter"/>
<polyline points="679.88,586.44 679.88,592.57 688.24,592.57" fill="none" stroke="#202020" stroke-width="3.60" stroke-linecap="butt" stroke-linejoin="miter"/>
<polyline points="687.34,587.53 679.88,589.72" fill="none" stroke="#202020" stroke-width="3.06" stroke-linecap="butt" stroke-linejoin="miter"/>
<polyline points="679.88,594.76 679.88,601.11 688.24,601.11" fill="none" stroke="#202020" stroke-width="3.60" stroke-linecap="butt" stroke-linejoin="miter"/>
<polyline points="687.34,596.07 679.88,598.26" fill="none" stroke="#202020" stroke-width="3.06" stroke-linecap="butt" stroke-linejoin="miter"/>
<polyline points="669.71,604.40 668.13,607.68" fill="none" stroke="#202020" stroke-width="3.60" stroke-linecap="butt" stroke-linejoin="miter"/>
<polyline points="674.91,604.40 675.59,607.68" fill="none" stroke="#202020" stroke-width="3.60" stroke-linecap="butt" stroke-linejoin="miter"/>
<polyline points="680.56,604.40 681.24,607.68" fill="none" stroke="#202020" stroke-width="3.60" stroke-linecap="butt" stroke-linejoin="miter"/>
<polyline points="686.21,604.40 688.24,607.68" fill="none" stroke="#202020" stroke-width="3.60" stroke-linecap="butt" stroke-linejoin="miter"/>
<polyline points="724.72,592.57 733.12,592.57" fill="none" stroke="#202020" stroke-width="3.60" stroke-linecap="butt" stroke-linejoin="miter"/>
<polyline points="729.55,586.44 729.55,606.59 727.03,605.27" fill="none" stroke="#202020" stroke-width="3.60" stroke-linecap="butt" stroke-linejoin="miter"/>
<polyline points="724.72,600.89 733.12,597.39" fill="none" stroke="#202020" stroke-width="3.60" stroke-linecap="butt" stroke-linejoin="miter"/>
<polyline points="733.96,589.50 744.88,589.50" fill="none" stroke="#202020" stroke-width="3.60" stroke-linecap="butt" stroke-linejoin="miter"/>
<polyline points="739.84,589.50 739.84,606.59 736.90,605.27" fill="none" stroke="#202020" stroke-width="3.60" stroke-linecap="butt" stroke-linejoin="miter"/>
<polyline points="757.45,587.31 750.38,590.38 750.38,604.40 758.28,602.64" fill="none" stroke="#202020" stroke-width="3.60" stroke-linecap="butt" stroke-linejoin="miter"/>
<polyline points="750.38,596.51 757.45,596.51" fill="none" stroke="#202020" stroke-width="3.60" stroke-linecap="butt" stroke-linejoin="miter"/>
<polyline points="760.36,607.46 760.36,589.07 767.44,589.07 767.44,601.77 764.52,601.33" fill="none" stroke="#202020" stroke-width="3.60" stroke-linecap="butt" stroke-linejoin="miter"/>
<text x="692.2" y="607.6" font-size="28.6" font-weight="bold" fill="#202020" style="stroke:#202020;stroke-width:0.7px" textLength="30.0" lengthAdjust="spacingAndGlyphs">3D</text>
</g>
<g opacity="0.93" transform="translate(0,0)">
<polyline points="621.54,589.72 639.66,589.72" fill="none" stroke="#ececec" stroke-width="3.30" stroke-linecap="butt" stroke-linejoin="miter"/>
<polyline points="630.60,586.00 630.60,592.57" fill="none" stroke="#ececec" stroke-width="3.30" stroke-linecap="butt" stroke-linejoin="miter"/>
<polyline points="622.77,607.46 622.77,593.45 638.43,593.45 638.43,606.15 635.54,606.15" fill="none" stroke="#ececec" stroke-width="3.30" stroke-linecap="butt" stroke-linejoin="miter"/>
<polyline points="627.72,595.20 628.95,597.39" fill="none" stroke="#ececec" stroke-width="2.31" stroke-linecap="butt" stroke-linejoin="miter"/>
<polyline points="633.48,595.20 632.25,597.39" fill="none" stroke="#ececec" stroke-width="2.31" stroke-linecap="butt" stroke-linejoin="miter"/>
<polyline points="626.27,598.48 634.93,598.48" fill="none" stroke="#ececec" stroke-width="2.47" stroke-linecap="butt" stroke-linejoin="miter"/>
<polyline points="626.27,602.21 634.93,602.21" fill="none" stroke="#ececec" stroke-width="2.47" stroke-linecap="butt" stroke-linejoin="miter"/>
<polyline points="630.60,598.48 630.60,607.02" fill="none" stroke="#ececec" stroke-width="2.64" stroke-linecap="butt" stroke-linejoin="miter"/>
<polyline points="643.04,592.13 651.92,592.13" fill="none" stroke="#ececec" stroke-width="3.30" stroke-linecap="butt" stroke-linejoin="miter"/>
<polyline points="647.48,586.44 647.48,607.46" fill="none" stroke="#ececec" stroke-width="3.30" stroke-linecap="butt" stroke-linejoin="miter"/>
<polyline points="647.48,593.45 643.27,600.89" fill="none" stroke="#ececec" stroke-width="3.30" stroke-linecap="butt" stroke-linejoin="miter"/>
<polyline points="647.93,595.20 651.48,598.70" fill="none" stroke="#ececec" stroke-width="2.64" stroke-linecap="butt" stroke-linejoin="miter"/>
<polyline points="652.81,588.63 661.25,588.63 658.58,595.64 663.47,595.64 661.25,599.58" fill="none" stroke="#ececec" stroke-width="3.30" stroke-linecap="butt" stroke-linejoin="miter"/>
<polyline points="655.92,588.63 655.25,596.95 652.15,607.02" fill="none" stroke="#ececec" stroke-width="3.30" stroke-linecap="butt" stroke-linejoin="miter"/>
<polyline points="656.36,596.07 664.36,607.02" fill="none" stroke="#ececec" stroke-width="3.30" stroke-linecap="butt" stroke-linejoin="miter"/>
<polyline points="663.02,596.07 654.14,607.02" fill="none" stroke="#ececec" stroke-width="3.30" stroke-linecap="butt" stroke-linejoin="miter"/>
<polyline points="672.88,586.44 668.81,591.26 676.04,590.82" fill="none" stroke="#ececec" stroke-width="3.30" stroke-linecap="butt" stroke-linejoin="miter"/>
<polyline points="674.23,588.63 676.49,591.69" fill="none" stroke="#ececec" stroke-width="2.64" stroke-linecap="butt" stroke-linejoin="miter"/>
<polyline points="669.03,603.08 669.03,593.45 676.27,593.45 676.27,602.64" fill="none" stroke="#ececec" stroke-width="3.30" stroke-linecap="butt" stroke-linejoin="miter"/>
<polyline points="669.03,596.51 676.27,596.51" fill="none" stroke="#ececec" stroke-width="2.47" stroke-linecap="butt" stroke-linejoin="miter"/>
<polyline points="669.03,599.36 676.27,599.36" fill="none" stroke="#ececec" stroke-width="2.47" stroke-linecap="butt" stroke-linejoin="miter"/>
<polyline points="679.88,586.44 679.88,592.57 688.24,592.57" fill="none" stroke="#ececec" stroke-width="3.30" stroke-linecap="butt" stroke-linejoin="miter"/>
<polyline points="687.34,587.53 679.88,589.72" fill="none" stroke="#ececec" stroke-width="2.80" stroke-linecap="butt" stroke-linejoin="miter"/>
<polyline points="679.88,594.76 679.88,601.11 688.24,601.11" fill="none" stroke="#ececec" stroke-width="3.30" stroke-linecap="butt" stroke-linejoin="miter"/>
<polyline points="687.34,596.07 679.88,598.26" fill="none" stroke="#ececec" stroke-width="2.80" stroke-linecap="butt" stroke-linejoin="miter"/>
<polyline points="669.71,604.40 668.13,607.68" fill="none" stroke="#ececec" stroke-width="3.30" stroke-linecap="butt" stroke-linejoin="miter"/>
<polyline points="674.91,604.40 675.59,607.68" fill="none" stroke="#ececec" stroke-width="3.30" stroke-linecap="butt" stroke-linejoin="miter"/>
<polyline points="680.56,604.40 681.24,607.68" fill="none" stroke="#ececec" stroke-width="3.30" stroke-linecap="butt" stroke-linejoin="miter"/>
<polyline points="686.21,604.40 688.24,607.68" fill="none" stroke="#ececec" stroke-width="3.30" stroke-linecap="butt" stroke-linejoin="miter"/>
<polyline points="724.72,592.57 733.12,592.57" fill="none" stroke="#ececec" stroke-width="3.30" stroke-linecap="butt" stroke-linejoin="miter"/>
<polyline points="729.55,586.44 729.55,606.59 727.03,605.27" fill="none" stroke="#ececec" stroke-width="3.30" stroke-linecap="butt" stroke-linejoin="miter"/>
<polyline points="724.72,600.89 733.12,597.39" fill="none" stroke="#ececec" stroke-width="3.30" stroke-linecap="butt" stroke-linejoin="miter"/>
<polyline points="733.96,589.50 744.88,589.50" fill="none" stroke="#ececec" stroke-width="3.30" stroke-linecap="butt" stroke-linejoin="miter"/>
<polyline points="739.84,589.50 739.84,606.59 736.90,605.27" fill="none" stroke="#ececec" stroke-width="3.30" stroke-linecap="butt" stroke-linejoin="miter"/>
<polyline points="757.45,587.31 750.38,590.38 750.38,604.40 758.28,602.64" fill="none" stroke="#ececec" stroke-width="3.30" stroke-linecap="butt" stroke-linejoin="miter"/>
<polyline points="750.38,596.51 757.45,596.51" fill="none" stroke="#ececec" stroke-width="3.30" stroke-linecap="butt" stroke-linejoin="miter"/>
<polyline points="760.36,607.46 760.36,589.07 767.44,589.07 767.44,601.77 764.52,601.33" fill="none" stroke="#ececec" stroke-width="3.30" stroke-linecap="butt" stroke-linejoin="miter"/>
<text x="692.2" y="607.6" font-size="28.6" font-weight="bold" fill="#ececec" style="stroke:#ececec;stroke-width:0.7px" textLength="30.0" lengthAdjust="spacingAndGlyphs">3D</text>
</g>
</g>
<polygon points="731.9,597.6 740.2,599.1 731.6,601.8" fill="#e01018" filter="url(#b05)"/>
<rect x="761.80" y="635.10" width="20.30" height="2.40" fill="#fff"/>
</g>
<rect x="543.20" y="469.90" width="15.70" height="15.00" fill="#fff"/>
<text x="550.60" y="481.69" font-size="14.5" text-anchor="middle" font-weight="bold" fill="#000">i</text>
</svg></body></html>
